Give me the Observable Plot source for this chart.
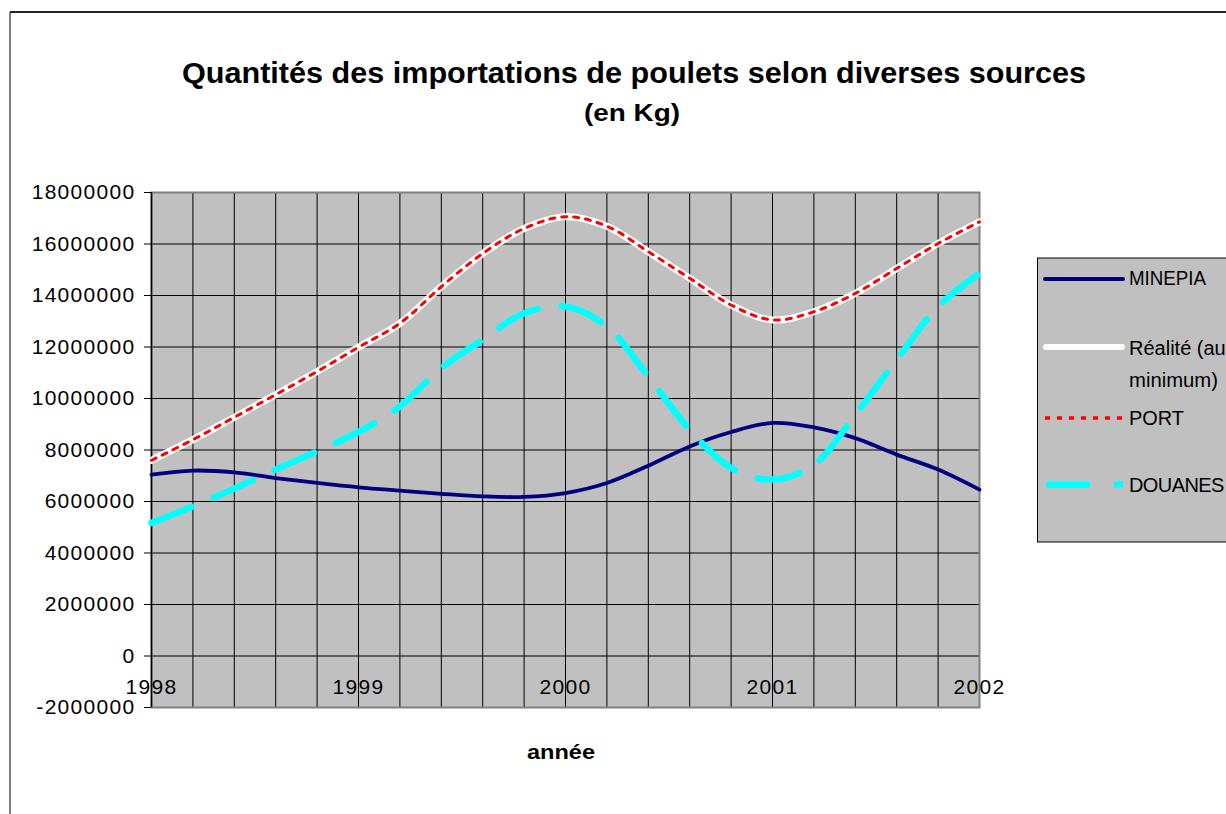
<!DOCTYPE html>
<html><head><meta charset="utf-8">
<script src="https://cdn.jsdelivr.net/npm/d3@7"></script>
<script src="https://cdn.jsdelivr.net/npm/@observablehq/plot@0.6"></script>
<style>
body{margin:0;background:#fff;}
#page{position:relative;width:1226px;height:814px;overflow:hidden;background:#fff;font-family:"Liberation Sans",Arial,sans-serif;}
#chart{position:absolute;left:0;top:0;}
#overlay{position:absolute;left:0;top:0;}
</style></head><body>
<div id="page"><div id="chart"></div><svg id="overlay" width="1226" height="814" xmlns="http://www.w3.org/2000/svg"></svg></div>
<script>
// ---- data ----
const periods = [0,1,2,3,4,5,6,7,8,9,10,11,12,13,14,15,16,17,18,19,20];
const yearLabels = ["1998","1999","2000","2001","2002"];
const yearPeriods = [0,5,10,15,20];
const yTicks = [-2000000,0,2000000,4000000,6000000,8000000,10000000,12000000,14000000,16000000,18000000];
const minepia = [7040000,7200000,7130000,6910000,6720000,6550000,6420000,6300000,6200000,6180000,6330000,6720000,7390000,8140000,8700000,9050000,8880000,8460000,7820000,7240000,6460000];
const realite = [7600000,8400000,9270000,10150000,11050000,11990000,12920000,14340000,15630000,16600000,17060000,16690000,15700000,14670000,13630000,13050000,13370000,14080000,15050000,16020000,16860000];
const port    = [7600000,8400000,9270000,10150000,11050000,11990000,12920000,14340000,15630000,16600000,17060000,16690000,15700000,14670000,13630000,13050000,13370000,14080000,15050000,16020000,16860000];
const douanes = [5170000,5810000,6500000,7240000,7950000,8700000,9690000,11180000,12280000,13310000,13570000,12790000,10850000,8790000,7300000,6850000,7430000,9370000,11500000,13570000,14860000];
const seriesNames = ["MINEPIA","Réalité (au","minimum)","PORT","DOUANES"];
const titleText = "Quantités des importations de poulets selon diverses sources";
const subtitleText = "(en Kg)";
const xTitle = "année";

const rows = vals => periods.map((p, i) => ({p, v: vals[i]}));
const years = yearPeriods.map((p, i) => ({p, label: yearLabels[i]}));
const FONT = "Liberation Sans, Arial, sans-serif";

const chart = Plot.plot({
  width: 1000, height: 760,
  marginLeft: 151, marginRight: 21, marginTop: 192, marginBottom: 53,
  x: {domain: [0, 20], axis: null},
  y: {domain: [-2000000, 18000000], axis: null},
  style: {fontFamily: FONT, fontSize: "21px", color: "black", background: "transparent", overflow: "visible", letterSpacing: "1.3px"},
  marks: [
    Plot.frame({fill: "#C0C0C0", stroke: "none"}),
    Plot.ruleX(periods, {stroke: "#000", strokeWidth: 1}),
    Plot.ruleY(yTicks, {stroke: "#000", strokeWidth: 1}),
    Plot.frame({stroke: "#808080", strokeWidth: 2}),
    Plot.ruleX([0], {stroke: "#000", strokeWidth: 1.5}),
    Plot.axisY({anchor: "left", ticks: yTicks, tickFormat: d => String(d), tickSize: 7, tickPadding: 9, fontSize: 21, label: null}),
    Plot.text(years, {x: "p", y: 0, text: "label", dy: 31, fontSize: 21, lineAnchor: "middle", fill: "#000"}),
    Plot.line(rows(minepia), {x: "p", y: "v", curve: "catmull-rom", stroke: "#000080", strokeWidth: 3.8}),
    Plot.line(rows(realite), {x: "p", y: "v", curve: "catmull-rom", stroke: "#FFFFFF", strokeWidth: 7}),
    Plot.line(rows(port), {x: "p", y: "v", curve: "catmull-rom", stroke: "#FF0000", strokeWidth: 3, strokeDasharray: "5,7"}),
    Plot.line(rows(douanes), {x: "p", y: "v", curve: "catmull-rom", stroke: "#00FFFF", strokeWidth: 6.5, strokeDasharray: "43,24"})
  ]
});
document.getElementById("chart").appendChild(chart);

// ---- overlay: frame, titles, legend ----
const ov = d3.select("#overlay");
ov.append("line").attr("x1", 10).attr("x2", 1226).attr("y1", 12).attr("y2", 12).attr("stroke", "#222").attr("stroke-width", 2);
ov.append("line").attr("x1", 10).attr("x2", 10).attr("y1", 12).attr("y2", 814).attr("stroke", "#000").attr("stroke-width", 1);

function txt(s, x, y, size, opts = {}) {
  const t = ov.append("text").attr("x", x).attr("y", y).text(s)
    .attr("font-family", FONT).attr("font-size", size).attr("fill", "#000")
    .attr("font-weight", opts.bold ? "bold" : "normal")
    .attr("text-anchor", opts.anchor || "start");
  if (opts.len) t.attr("textLength", opts.len).attr("lengthAdjust", "spacingAndGlyphs");
  return t;
}
txt(titleText, 634, 83, 29, {bold: true, anchor: "middle", len: 904});
txt(subtitleText, 632, 121, 23, {bold: true, anchor: "middle", len: 96});
txt(xTitle, 561, 759, 21, {bold: true, anchor: "middle", len: 68});

// legend
const lg = ov.append("g");
lg.append("rect").attr("x", 1037.5).attr("y", 258).attr("width", 220).attr("height", 284)
  .attr("fill", "#C0C0C0").attr("stroke", "#000").attr("stroke-width", 1);
lg.append("line").attr("x1", 1045).attr("x2", 1123).attr("y1", 279).attr("y2", 279).attr("stroke", "#000080").attr("stroke-width", 4).attr("stroke-linecap", "round");
lg.append("line").attr("x1", 1046).attr("x2", 1122).attr("y1", 347).attr("y2", 347).attr("stroke", "#FFFFFF").attr("stroke-width", 6).attr("stroke-linecap", "round");
lg.append("line").attr("x1", 1045).attr("x2", 1122).attr("y1", 418).attr("y2", 418).attr("stroke", "#FF0000").attr("stroke-width", 3.5).attr("stroke-dasharray", "5,7");
lg.append("line").attr("x1", 1046).attr("x2", 1123).attr("y1", 484.5).attr("y2", 484.5).attr("stroke", "#00FFFF").attr("stroke-width", 6.5).attr("stroke-dasharray", "44,24");
txt(seriesNames[0], 1129, 285, 20, {len: 77});
txt(seriesNames[1], 1129, 355, 20);
txt(seriesNames[2], 1129, 387, 20, {len: 89});
txt(seriesNames[3], 1129, 425, 20, {len: 55});
txt(seriesNames[4], 1129, 492, 20).attr("letter-spacing", "-0.6");
</script>
</body></html>
